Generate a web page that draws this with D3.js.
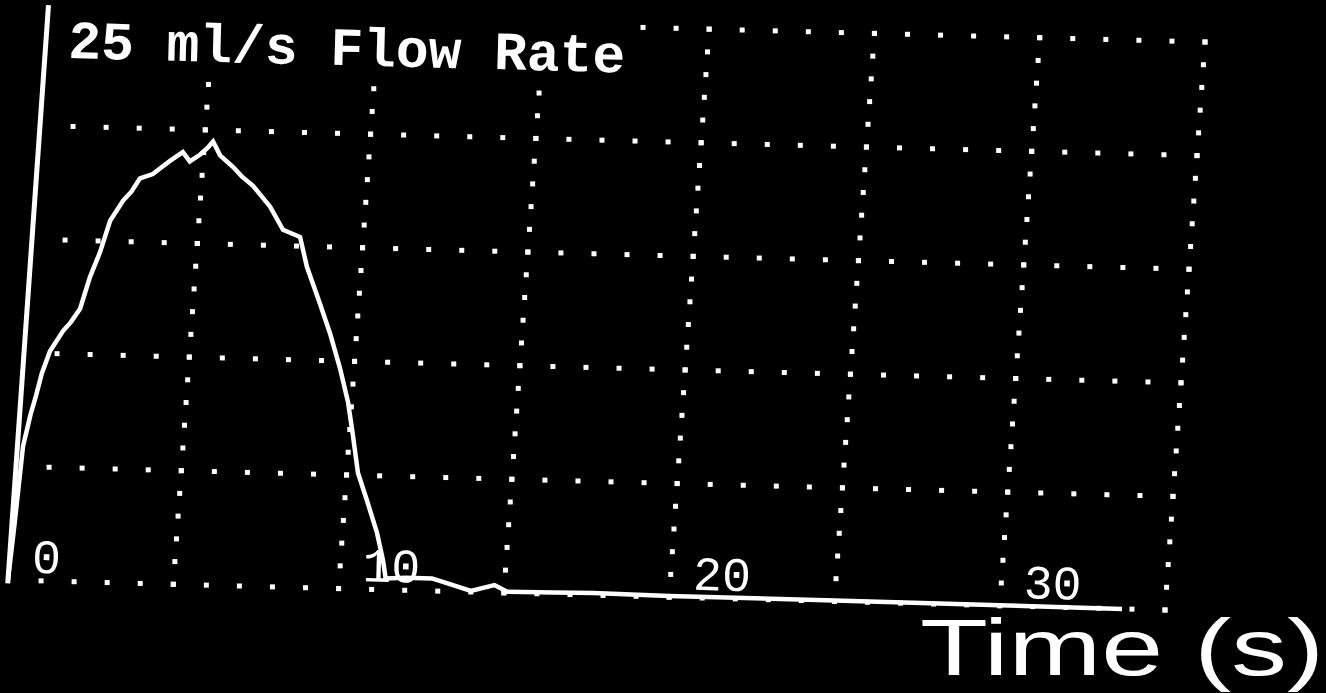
<!DOCTYPE html>
<html>
<head>
<meta charset="utf-8">
<script src="https://cdn.jsdelivr.net/npm/d3@7"></script>
<style>
  html, body { margin: 0; padding: 0; background: #000; }
  svg { display: block; }
</style>
</head>
<body>
<svg id="chart" width="1326" height="693"></svg>
<script>
// ---- data ----
const timeSec = [0, 0.08, 0.17, 0.33, 0.45, 0.58, 0.78, 1.13, 1.35, 1.6, 1.83, 2.08, 2.32, 2.67, 2.9, 3.13,
  3.51, 3.75, 4.0, 4.37, 4.6, 4.89, 5.1, 5.26, 5.5, 5.92, 6.2, 6.56, 7.12, 7.56, 8.09, 8.36,
  8.83, 9.2, 9.57, 9.89, 10.1, 10.34, 10.67, 11.04, 11.28, 11.4, 12.0, 12.8, 13.4, 14.0, 14.7, 15.1,
  16.5, 17.7, 20, 25, 30, 33.7];
const flowRate = [0, 2.5, 5.9, 7.3, 8.1, 9.1, 10.1, 11.0, 11.4, 12.0, 13.4, 14.5, 15.9, 16.8, 17.2, 17.8,
  18.0, 18.3, 18.6, 19.0, 18.6, 18.9, 19.2, 19.5, 18.9, 18.4, 18.0, 17.6, 16.7, 15.7, 15.4, 14.1,
  12.5, 11.2, 9.7, 8.2, 6.8, 5.1, 3.9, 2.5, 1.3, 0.5, 0.55, 0.55, 0.3, 0.05, 0.33, 0.05,
  0.07, 0.1, 0.05, 0.04, 0.02, 0.0];
const timeGrid = [5, 10, 15, 20, 25, 30, 35];
const flowGrid = [0, 5, 10, 15, 20, 25];
const timeTickLabels = ["0", "10", "20", "30"];
const timeTickValues = [0, 10, 20, 30];
const titleText = "25 ml/s Flow Rate";
const axisTitle = "Time (s)";

// ---- scales & skewed projection ----
const xS = d3.scaleLinear().domain([0, 35]).range([0, 1157]);
const yS = d3.scaleLinear().domain([0, 25]).range([0, 568]);
const ORIGIN = [8, 580];
function P(t, f) {
  const a = xS(t), b = yS(f);
  return [ORIGIN[0] + a + b * 40 / 568, ORIGIN[1] + a * 30 / 1157 - b];
}
const rowAngle = Math.atan2(30, 1157) * 180 / Math.PI;

const svg = d3.select("#chart");
svg.append("rect").attr("width", 1326).attr("height", 693).attr("fill", "#000");

// ---- dotted grid ----
const dots = [];
flowGrid.forEach(f => { d3.range(1, 36).forEach(t => dots.push(P(t, f))); });
timeGrid.forEach(t => { d3.range(0, 26).forEach(f => dots.push(P(t, f))); });
const ds = 5;
svg.append("g").selectAll("rect").data(dots).join("rect")
  .attr("x", d => d[0] - ds / 2).attr("y", d => d[1] - ds / 2)
  .attr("width", ds).attr("height", ds).attr("fill", "#fff");

// ---- title with black box (hides grid beneath) ----
const tp = P(0.7, 23.0);
const tg = svg.append("g").attr("transform", `translate(${tp[0]},${tp[1]}) rotate(${rowAngle})`);
tg.append("rect").attr("x", -6).attr("y", -56).attr("width", 570).attr("height", 70).attr("fill", "#000");
tg.append("text").text(titleText)
  .attr("x", 0).attr("y", 0)
  .attr("font-family", "Liberation Mono, DejaVu Sans Mono, monospace")
  .attr("font-weight", "bold")
  .attr("font-size", 54).attr("fill", "#fff")
  .attr("textLength", 557).attr("lengthAdjust", "spacingAndGlyphs");

// ---- y axis line ----
const a0 = P(0, -0.15), a1 = P(0, 25.3);
svg.append("line").attr("x1", a0[0]).attr("y1", a0[1]).attr("x2", a1[0]).attr("y2", a1[1])
  .attr("stroke", "#fff").attr("stroke-width", 5);

// ---- tick labels ----
svg.append("g").selectAll("text").data(timeTickValues).join("text")
  .attr("transform", d => { const p = P(d + 0.7, 0.35); return `translate(${p[0]},${p[1]}) rotate(${rowAngle})`; })
  .text((d, i) => timeTickLabels[i])
  .attr("font-family", "Liberation Mono, DejaVu Sans Mono, monospace")
  .attr("font-size", 48).attr("fill", "#fff");

// ---- flow curve ----
const pts = timeSec.map((t, i) => P(t, flowRate[i]));
svg.append("path").datum(pts)
  .attr("d", d3.line().curve(d3.curveLinear))
  .attr("fill", "none").attr("stroke", "#fff").attr("stroke-width", 4.5)
  .attr("stroke-linejoin", "miter");

// ---- axis title ----
svg.append("text").text(axisTitle)
  .attr("x", 920).attr("y", 675)
  .attr("font-family", "Liberation Sans, Arial, sans-serif")
  .attr("font-size", 80).attr("fill", "#fff")
  .attr("textLength", 404).attr("lengthAdjust", "spacingAndGlyphs");
</script>
</body>
</html>
